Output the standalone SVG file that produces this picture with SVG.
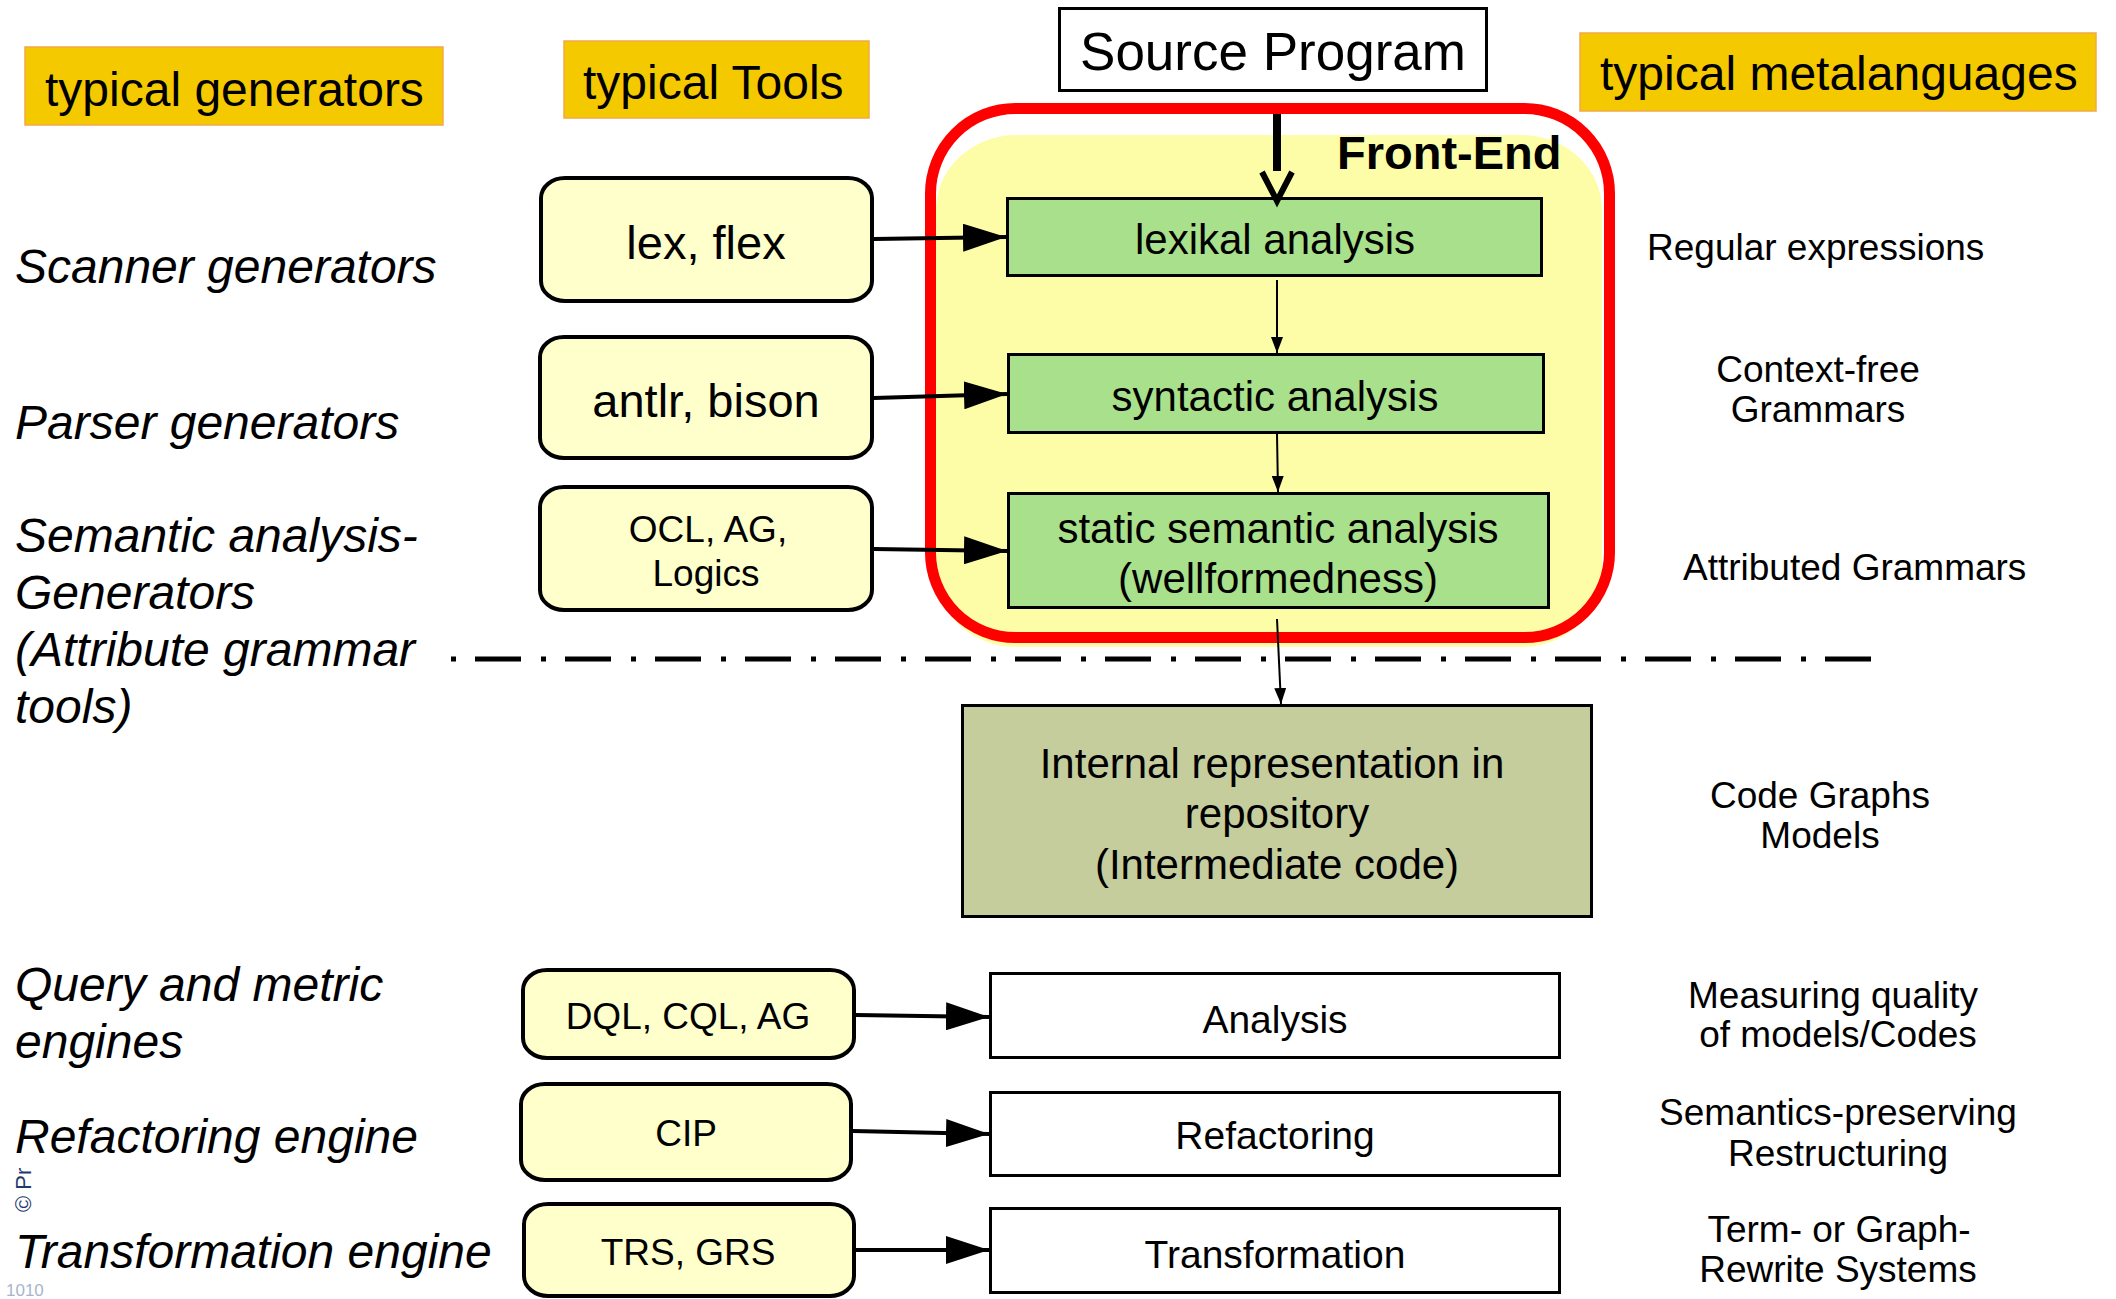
<svg xmlns="http://www.w3.org/2000/svg" width="2116" height="1299" viewBox="0 0 2116 1299">
<style>
text{font-family:"Liberation Sans",Arial,sans-serif;fill:#000}
.hdr{font-size:48px}
.gold{fill:#F5C900;stroke:#F2A84A;stroke-width:1.5}
.gen{font-size:48px;font-style:italic}
.tool{fill:#FFFFCC;stroke:#000;stroke-width:4}
.green{fill:#A9E08B;stroke:#000;stroke-width:3}
.plain{fill:#fff;stroke:#000;stroke-width:3}
.meta{font-size:37px;text-anchor:middle}
.c{text-anchor:middle}
.big{stroke:#000;stroke-width:4;fill:none}
.thin{stroke:#000;stroke-width:2;fill:none}
</style>
<defs>
<marker id="ah" markerUnits="userSpaceOnUse" markerWidth="44" markerHeight="28" refX="43" refY="14" orient="auto">
<path d="M0,0 L43,14 L0,28 Z" fill="#000"/>
</marker>
<marker id="ahs" markerUnits="userSpaceOnUse" markerWidth="16" markerHeight="12" refX="16" refY="6" orient="auto">
<path d="M0,0 L16,6 L0,12 Z" fill="#000"/>
</marker>
</defs>
<rect width="2116" height="1299" fill="#fff"/>

<!-- headers -->
<g id="hdr-generators"><rect class="gold" x="25" y="47" width="418" height="78"/><text class="hdr" x="45" y="106">typical generators</text></g>
<g id="hdr-tools"><rect class="gold" x="564" y="41" width="305" height="77"/><text class="hdr" x="583" y="99">typical Tools</text></g>
<g id="hdr-meta"><rect class="gold" x="1580" y="33" width="516" height="78"/><text class="hdr" x="1600" y="90">typical metalanguages</text></g>

<!-- left generator labels -->
<g id="labels-left">
<text class="gen" x="15" y="283">Scanner generators</text>
<text class="gen" x="15" y="439">Parser generators</text>
<text class="gen" x="15" y="552">Semantic analysis-</text>
<text class="gen" x="15" y="609">Generators</text>
<text class="gen" x="15" y="666">(Attribute grammar</text>
<text class="gen" x="15" y="723">tools)</text>
<text class="gen" x="15" y="1001">Query and metric</text>
<text class="gen" x="15" y="1058">engines</text>
<text class="gen" x="15" y="1153">Refactoring engine</text>
<text class="gen" x="15" y="1268">Transformation engine</text>
</g>

<!-- watermark fragments at the left edge -->
<g id="watermark">
<text x="0" y="0" font-size="22" transform="translate(31,1212) rotate(-90)" style="fill:#1F3A6E">© Pr</text>
<text x="6" y="1296" font-size="17" style="fill:#A8B4CC">1010</text>
</g>

<!-- front-end frame -->
<g id="frontend">
<rect x="936" y="135" width="666" height="512" rx="80" ry="75" fill="#FDFDA8"/>
<rect x="930.5" y="108.5" width="679" height="529" rx="85" ry="85" fill="none" stroke="#FF0000" stroke-width="11"/>
<text x="1337" y="169" font-size="47" font-weight="bold">Front-End</text>
</g>

<!-- source program -->
<g id="source"><rect class="plain" x="1059.5" y="8.5" width="427" height="82"/><text class="c" x="1273" y="70" font-size="53">Source Program</text></g>

<!-- tool boxes -->
<g id="tool-lex"><rect class="tool" x="541" y="178" width="331" height="123" rx="24" ry="20"/><text class="c" x="706" y="259" font-size="47">lex, flex</text></g>
<g id="tool-antlr"><rect class="tool" x="540" y="337" width="332" height="121" rx="24" ry="20"/><text class="c" x="706" y="417" font-size="47">antlr, bison</text></g>
<g id="tool-ocl"><rect class="tool" x="540" y="487" width="332" height="123" rx="24" ry="20"/><text class="c" x="708" y="542" font-size="37">OCL, AG,</text><text class="c" x="706" y="586" font-size="37">Logics</text></g>
<g id="tool-dql"><rect class="tool" x="523" y="970" width="331" height="88" rx="24" ry="20"/><text class="c" x="688" y="1029" font-size="37">DQL, CQL, AG</text></g>
<g id="tool-cip"><rect class="tool" x="521" y="1084" width="330" height="96" rx="24" ry="20"/><text class="c" x="686" y="1146" font-size="37">CIP</text></g>
<g id="tool-trs"><rect class="tool" x="524" y="1204" width="330" height="92" rx="24" ry="20"/><text class="c" x="688" y="1265" font-size="37">TRS, GRS</text></g>

<!-- front-end phases -->
<g id="lexikal"><rect class="green" x="1007.5" y="198.5" width="534" height="77"/><text class="c" x="1275" y="254" font-size="42">lexikal analysis</text></g>
<g id="syntactic"><rect class="green" x="1008.5" y="354.5" width="535" height="78"/><text class="c" x="1275" y="411" font-size="42">syntactic analysis</text></g>
<g id="semantic"><rect class="green" x="1008.5" y="493.5" width="540" height="114"/><text class="c" x="1278" y="543" font-size="42">static semantic analysis</text><text class="c" x="1278" y="593" font-size="42">(wellformedness)</text></g>

<!-- internal representation -->
<g id="internal"><rect x="962.5" y="705.5" width="629" height="211" fill="#C5CD9D" stroke="#000" stroke-width="3"/>
<text class="c" x="1272" y="778" font-size="42">Internal representation in</text>
<text class="c" x="1277" y="828" font-size="42">repository</text>
<text class="c" x="1277" y="879" font-size="42">(Intermediate code)</text></g>

<!-- back-end boxes -->
<g id="analysis"><rect class="plain" x="990.5" y="973.5" width="569" height="84"/><text class="c" x="1275" y="1033" font-size="39">Analysis</text></g>
<g id="refactoring"><rect class="plain" x="990.5" y="1092.5" width="569" height="83"/><text class="c" x="1275" y="1149" font-size="39">Refactoring</text></g>
<g id="transformation"><rect class="plain" x="990.5" y="1208.5" width="569" height="84"/><text class="c" x="1275" y="1268" font-size="39">Transformation</text></g>

<!-- metalanguage labels -->
<g id="labels-right">
<text x="1647" y="260" font-size="37">Regular expressions</text>
<text class="meta" x="1818" y="382">Context-free</text>
<text class="meta" x="1818" y="422">Grammars</text>
<text x="1683" y="580" font-size="37">Attributed Grammars</text>
<text class="meta" x="1820" y="808">Code Graphs</text>
<text class="meta" x="1820" y="848">Models</text>
<text class="meta" x="1833" y="1008">Measuring quality</text>
<text class="meta" x="1838" y="1047">of models/Codes</text>
<text class="meta" x="1838" y="1125">Semantics-preserving</text>
<text class="meta" x="1838" y="1166">Restructuring</text>
<text class="meta" x="1839" y="1242">Term- or Graph-</text>
<text class="meta" x="1838" y="1282">Rewrite Systems</text>
</g>

<!-- connectors -->
<g id="connectors">
<line x1="451" y1="659" x2="1873" y2="659" stroke="#000" stroke-width="5" stroke-dasharray="5 19 46 20"/>
<line x1="1277" y1="114" x2="1277" y2="171" stroke="#000" stroke-width="8"/>
<polyline points="1262,172 1277,201 1292,172" fill="none" stroke="#000" stroke-width="6"/>
<line class="big" x1="874" y1="239" x2="1006" y2="237" marker-end="url(#ah)"/>
<line class="big" x1="874" y1="398" x2="1007" y2="394" marker-end="url(#ah)"/>
<line class="big" x1="874" y1="549" x2="1007" y2="551" marker-end="url(#ah)"/>
<line class="big" x1="856" y1="1015" x2="989" y2="1017" marker-end="url(#ah)"/>
<line class="big" x1="853" y1="1131" x2="989" y2="1134" marker-end="url(#ah)"/>
<line class="big" x1="856" y1="1250" x2="989" y2="1250" marker-end="url(#ah)"/>
<line class="thin" x1="1277" y1="280" x2="1277" y2="353" marker-end="url(#ahs)"/>
<line class="thin" x1="1277" y1="434" x2="1278" y2="492" marker-end="url(#ahs)"/>
<line class="thin" x1="1277" y1="619" x2="1281" y2="704" marker-end="url(#ahs)"/>
</g>
</svg>
